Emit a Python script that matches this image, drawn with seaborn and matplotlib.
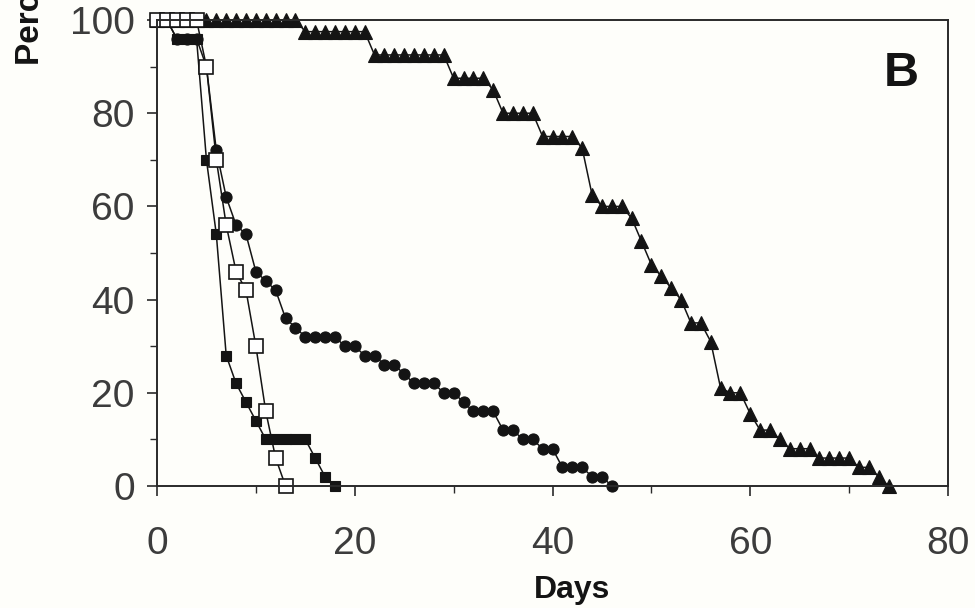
import numpy as np
import pandas as pd
import matplotlib
matplotlib.use("Agg")
import matplotlib.pyplot as plt
from matplotlib.ticker import MultipleLocator
import seaborn as sns

# ---- data ----
tri_days = list(range(0, 75))
tri_vals = ([100] * 15 + [97.5] * 7 + [92.5] * 8 + [87.5] * 4 + [85] +
            [80] * 4 + [75] * 4 + [72.5, 62.5, 60, 60, 60, 57.5, 52.5, 47.5,
             45, 42.5, 40, 35, 35, 31, 21, 20, 20, 15.5, 12, 12, 10,
             8, 8, 8, 6, 6, 6, 6, 4, 4, 2, 0])

circ_days = list(range(0, 47))
circ_vals = [100, 100, 96, 96, 96, 90, 72, 62, 56, 54, 46, 44, 42, 36, 34,
             32, 32, 32, 32, 30, 30, 28, 28, 26, 26, 24, 22, 22, 22, 20, 20,
             18, 16, 16, 16, 12, 12, 10, 10, 8, 8, 4, 4, 4, 2, 2, 0]

fsq_days = list(range(0, 19))
fsq_vals = [100, 100, 96, 96, 96, 70, 54, 28, 22, 18, 14, 10, 10, 10, 10,
            10, 6, 2, 0]

osq_days = list(range(0, 14))
osq_vals = [100, 100, 100, 100, 100, 90, 70, 56, 46, 42, 30, 16, 6, 0]

x_ticks = [0, 20, 40, 60, 80]
y_ticks = [0, 20, 40, 60, 80, 100]
x_label = "Days"
y_label = "Percent survival"
panel_label = "B"

# ---- style ----
sns.set_theme(style="ticks")
plt.rcParams['font.family'] = ['Liberation Sans', 'DejaVu Sans']

ink = "#141414"
bg = "#fefefa"

fig = plt.figure(figsize=(9.75, 6.08), dpi=100, facecolor=bg)
ax = fig.add_axes([157 / 975, 1 - 486 / 608, (948 - 157) / 975, (486 - 20) / 608])
ax.set_facecolor(bg)

common = dict(color=ink, linewidth=1.1, markeredgecolor=ink, ax=ax,
              clip_on=False, legend=False)

sns.lineplot(x=tri_days, y=tri_vals, marker="^", markersize=10.5,
             markerfacecolor=ink, markeredgewidth=0.8, **common)
sns.lineplot(x=circ_days, y=circ_vals, marker="o", markersize=8,
             markerfacecolor=ink, markeredgewidth=0.8, **common)
sns.lineplot(x=fsq_days, y=fsq_vals, marker="s", markersize=7.5,
             markerfacecolor=ink, markeredgewidth=0.8, **common)
sns.lineplot(x=osq_days, y=osq_vals, marker="s", markersize=10.5,
             markerfacecolor="white", markeredgewidth=1.2, **common)

ax.set_xlim(0, 80)
ax.set_ylim(0, 100)
ax.set_xticks(x_ticks)
ax.set_yticks(y_ticks)
ax.xaxis.set_minor_locator(MultipleLocator(10))
ax.yaxis.set_minor_locator(MultipleLocator(10))

for side in ["top", "right", "left", "bottom"]:
    ax.spines[side].set_visible(True)
    ax.spines[side].set_color("#2a2a2a")
    ax.spines[side].set_linewidth(1.4)

ax.tick_params(axis="both", which="major", direction="out", length=7,
               width=1.2, color="#2a2a2a", labelsize=28, labelcolor="#3c3c3c")
ax.tick_params(axis="both", which="minor", direction="out", length=5,
               width=1.0, color="#2a2a2a")
ax.tick_params(axis="x", which="major", pad=22)
ax.tick_params(axis="y", which="major", pad=9)

ax.set_xlabel(x_label, fontsize=23, fontweight="bold", color=ink)
ax.xaxis.set_label_coords((572 - 157) / 791, -(590 - 486) / 466)
ax.xaxis.label.set_va("center")
ax.set_ylabel("")

fig.text(31 / 975, 1 - 65 / 608, y_label, rotation=90, ha="center",
         va="bottom", fontsize=24, fontweight="bold", color=ink)

ax.text(75.3, 88.5, panel_label, ha="center", va="center", fontsize=35,
        fontweight="bold", color=ink)

fig.savefig("out.png", dpi=100, facecolor=bg)
